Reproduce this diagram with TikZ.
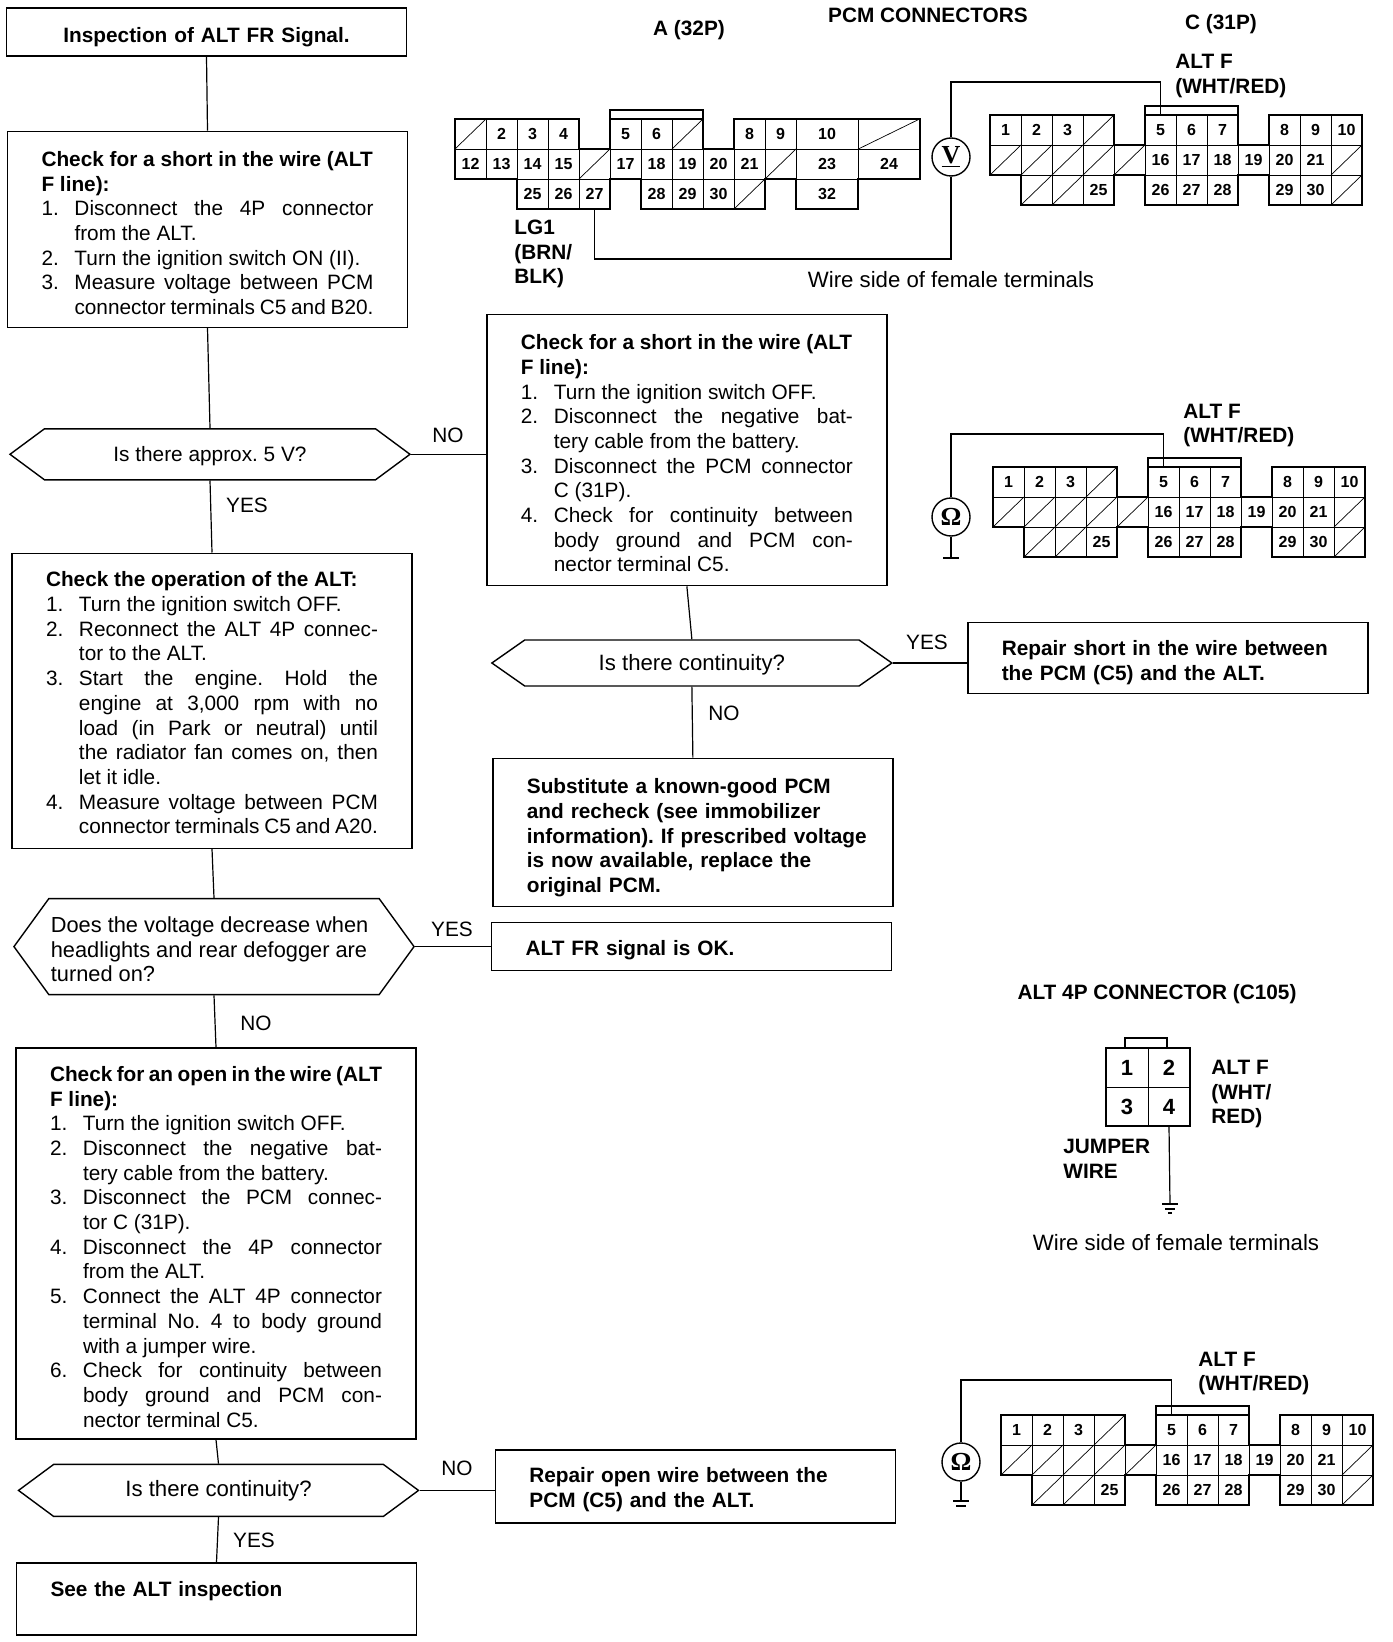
\documentclass[tikz,border=0pt]{standalone}
\usepackage{fontspec}
\usepackage{tikz}
\setmainfont{Liberation Sans}
\newfontfamily\meterfont{Liberation Serif}
\usetikzlibrary{arrows.meta,positioning,shapes.symbols,calc}
\setlength{\parindent}{0pt}
\tolerance=9999
\hbadness=10000
\newcommand{\bodyfont}{\fontsize{10.4}{12.35}\selectfont\frenchspacing}
\newcommand{\widefont}{\fontsize{11.1}{12.35}\selectfont\frenchspacing}
\newcommand{\stp}[2]{\par\noindent\hangindent=16.5pt\hangafter=1\hbox to 16.5pt{#1\hfil}#2\par}
\newcommand{\dn}[1]{\rule{0pt}{#1}}

\begin{document}
\begin{tikzpicture}[x=.5pt,y=-.5pt,font=\bodyfont,
  bx/.style={rectangle,draw,line width=.7pt,text width=166pt,inner xsep=17pt,inner ysep=2pt,align=justify},
  bb/.style={bx,font=\bodyfont\bfseries,align=left},
  hx/.style={signal,signal to=east and west,draw,line width=.7pt,minimum width=200pt,inner sep=1pt,align=left},
  lb/.style={font=\bodyfont,inner sep=0pt},
  tt/.style={font=\bodyfont\bfseries,inner sep=0pt,align=left},
  cell/.style={rectangle,draw,line width=.35pt,minimum width=15.5pt,minimum height=15pt,inner sep=0pt,font=\fontsize{8}{9}\selectfont\bfseries},
  wide/.style={cell,minimum width=31pt},
  pin/.style={rectangle,draw,line width=.35pt,minimum width=21pt,minimum height=19.5pt,inner sep=0pt,font=\fontsize{11}{12}\selectfont\bfseries},
  rim/.style={line width=1pt},
  meter/.style={circle,draw,line width=.7pt,minimum size=19pt,inner sep=0pt,font=\meterfont\bfseries\fontsize{13}{14}\selectfont},
  wire/.style={line width=.6pt}]
\useasboundingbox (0,0) rectangle (1392,1642);
% left column
\node[bb,align=center,minimum height=24pt](b1) at (206.5,32){\dn{12.8pt}Inspection of ALT FR Signal.};
\node[bx,minimum height=98pt,below=37pt of b1,xshift=.5pt](b2){\dn{11.3pt}{\bfseries Check for a short in the wire (ALT\\ F line):}\par
  \stp{1.}{Disconnect the 4P connector\linebreak from the ALT.}
  \stp{2.}{Turn the ignition switch ON (II).}
  \stp{3.}{Measure voltage between PCM\linebreak connector terminals C5 and B20.}};
\node[hx,minimum height=25.5pt,signal pointer angle=73,below=50pt of b2,xshift=1.25pt,align=center](d1){\dn{9.7pt}Is there approx. 5 V?};
\node[bx,minimum height=147.5pt,below=36pt of d1,xshift=1pt](b3){\dn{9.7pt}{\bfseries Check the operation of the ALT:}\par
  \stp{1.}{Turn the ignition switch OFF.}
  \stp{2.}{Reconnect the ALT 4P connec-\linebreak tor to the ALT.}
  \stp{3.}{Start the engine. Hold the\linebreak engine at 3,000 rpm with no\linebreak load (in Park or neutral) until\linebreak the radiator fan comes on, then\linebreak let it idle.}
  \stp{4.}{Measure voltage between PCM\linebreak connector terminals C5 and A20.}};
\node[hx,minimum height=48pt,signal pointer angle=108,below=24.5pt of b3,xshift=1pt,font=\fontsize{10.9}{12.35}\selectfont](d2){\dn{10.5pt}Does the voltage decrease when\\headlights and rear defogger are\hspace{5pt}\mbox{}\\turned on?};
\node[bx,minimum height=195.5pt,below=26pt of d2,xshift=1pt](b4){\dn{10.8pt}{\bfseries Check for an open in the wire (ALT\\ F line):}\par
  \stp{1.}{Turn the ignition switch OFF.}
  \stp{2.}{Disconnect the negative bat-\linebreak tery cable from the battery.}
  \stp{3.}{Disconnect the PCM connec-\linebreak tor C (31P).}
  \stp{4.}{Disconnect the 4P connector\linebreak from the ALT.}
  \stp{5.}{Connect the ALT 4P connector\linebreak terminal No. 4 to body ground\linebreak with a jumper wire.}
  \stp{6.}{Check for continuity between\linebreak body ground and PCM con-\linebreak nector terminal C5.}};
\node[hx,minimum height=26pt,signal pointer angle=73,below=12pt of b4,xshift=1.25pt,align=center,font=\widefont](d3){Is there continuity?};
\node[bb,minimum height=36pt,below=22.5pt of d3,xshift=-1pt](b5){\dn{9.7pt}See the ALT inspection\\~};
% middle column
\node[bx,minimum height=135.5pt,right=37.5pt of d1,yshift=2.1pt](b6){\dn{10.8pt}{\bfseries Check for a short in the wire (ALT\\ F line):}\par
  \stp{1.}{Turn the ignition switch OFF.}
  \stp{2.}{Disconnect the negative bat-\linebreak tery cable from the battery.}
  \stp{3.}{Disconnect the PCM connector\linebreak C (31P).}
  \stp{4.}{Check for continuity between\linebreak body ground and PCM con-\linebreak nector terminal C5.}};
\node[hx,minimum height=23pt,signal pointer angle=70,below=26.5pt of b6,xshift=2.5pt,align=center,font=\widefont](d4){\dn{9.7pt}Is there continuity?};
\node[bb,minimum height=35.5pt,right=37pt of d4,yshift=2.4pt](b7){\dn{12.3pt}Repair short in the wire between\\the PCM (C5) and the ALT.};
\node[bb,minimum height=74pt,below=35.5pt of d4,xshift=.5pt](b8){\dn{12.8pt}Substitute a known-good PCM\\and recheck (see immobilizer\\\mbox{information). If prescribed voltage}\\is now available, replace the\\original PCM.};
\node[bb,minimum height=24pt,right=38pt of d2](b9){\dn{11.3pt}ALT FR signal is OK.};
\node[bb,minimum height=36.5pt,right=37.5pt of d3,yshift=2pt](b10){\dn{10.8pt}Repair open wire between the\\PCM (C5) and the ALT.};
% flow lines
\draw[wire](b1.south)--(b2.north);
\draw[wire](b2.south)--(d1.north);
\draw[wire](d1.south)--(b3.north);
\draw[wire](b3.south)--(d2.north);
\draw[wire](d2.south)--(b4.north);
\draw[wire](b4.south)--(d3.north);
\draw[wire](d3.south)--(b5.north);
\draw[wire](b6.south)--(d4.north);
\draw[wire](d4.south)--(b8.north);
\draw[wire](d1.east)--(d1.east -| b6.west);
\draw[wire](d2.east)--(d2.east -| b9.west);
\draw[wire](d3.east)--(d3.east -| b10.west);
\draw[wire](d4.east)--(d4.east -| b7.west);
% yes and no
\node[lb](l1) at (448,435){NO};
\node[lb](l2) at (247,505){YES};
\node[lb](l3) at (452,929){YES};
\node[lb](l4) at (256,1023){NO};
\node[lb](l5) at (457,1468){NO};
\node[lb](l6) at (254,1540){YES};
\node[lb](l7) at (927,642){YES};
\node[lb](l8) at (724,713){NO};
% connector A
\begin{scope}[shift={(455,119)},x=15.5pt,y=-15pt]
\foreach \c/\r/\t in {1/0/2,2/0/3,3/0/4,5/0/5,6/0/6,9/0/8,10/0/9,0/1/12,1/1/13,2/1/14,3/1/15,5/1/17,6/1/18,7/1/19,8/1/20,9/1/21,2/2/25,3/2/26,4/2/27,6/2/28,7/2/29,8/2/30}
  \node[cell](a\t) at (\c+.5,\r+.5){\t};
\foreach \c/\r/\t in {12/0/10,12/1/23,14/1/24,12/2/32}
  \node[wide](a\t) at (\c,\r+.5){\t};
\foreach \c/\r in {0/0,7/0,4/1,10/1,9/2}{
  \node[cell](as\c\r) at (\c+.5,\r+.5){};
  \draw[cell](as\c\r.south west)--(as\c\r.north east);}
\node[wide](asw) at (14,.5){};
\draw[cell](asw.south west)--(asw.north east);
\draw[rim](0,0)--(4,0)--(4,1)--(5,1)--(5,0)--(8,0)--(8,1)--(9,1)--(9,0)--(15,0)--(15,2)--(13,2)--(13,3)--(11,3)--(11,2)--(10,2)--(10,3)--(6,3)--(6,2)--(5,2)--(5,3)--(2,3)--(2,2)--(0,2)--cycle;
\draw[rim](5,0)--(5,-.3)--(8,-.3)--(8,0);
\end{scope}
% connector C, three times
\foreach \nm/\ox/\oy in {p/990/115,q/993/467,r/1001/1415}{
\begin{scope}[shift={(\ox,\oy)},x=15.5pt,y=-15pt]
\foreach \c/\r/\t in {0/0/1,1/0/2,2/0/3,5/0/5,6/0/6,7/0/7,9/0/8,10/0/9,11/0/10,5/1/16,6/1/17,7/1/18,8/1/19,9/1/20,10/1/21,3/2/25,5/2/26,6/2/27,7/2/28,9/2/29,10/2/30}
  \node[cell](\nm\t) at (\c+.5,\r+.5){\t};
\foreach \c/\r in {3/0,0/1,1/1,2/1,3/1,4/1,11/1,1/2,2/2,11/2}{
  \node[cell](\nm s\c\r) at (\c+.5,\r+.5){};
  \draw[cell](\nm s\c\r.south west)--(\nm s\c\r.north east);}
\draw[rim](0,0)--(4,0)--(4,1)--(5,1)--(5,0)--(8,0)--(8,1)--(9,1)--(9,0)--(12,0)--(12,3)--(9,3)--(9,2)--(8,2)--(8,3)--(5,3)--(5,2)--(4,2)--(4,3)--(1,3)--(1,2)--(0,2)--cycle;
\draw[rim](5,0)--(5,-.3)--(8,-.3)--(8,0);
\end{scope}}
% meters and wires
\node[meter](vm) at (951,157){\underline{V}};
\coordinate(w1) at (1000,82);
\coordinate(w2) at (700,259);
\draw[wire](vm.north)|-(w1)-|(p5.north);
\draw[wire](vm.south)|-(w2)-|(a27.south);
\node[meter](om1) at (951,517){Ω};
\coordinate(w3) at (1000,434);
\coordinate(g1) at (951,558);
\draw[wire](om1.north)|-(w3)-|(q5.north);
\draw[wire](om1.south)--(g1);
\draw[wire]([xshift=-4pt]g1)--([xshift=4pt]g1);
\node[meter](om2) at (961,1462){Ω};
\coordinate(w4) at (1010,1380);
\coordinate(g2) at (961,1501);
\draw[wire](om2.north)|-(w4)-|(r5.north);
\draw[wire](om2.south)--(g2);
\draw[wire]([xshift=-4pt]g2)--([xshift=4pt]g2);
\draw[wire]([xshift=-2.5pt,yshift=-2.5pt]g2)--([xshift=2.5pt,yshift=-2.5pt]g2);
% ALT 4P connector
\node[pin](c1) at (1127,1067.5){1};
\node[pin](c2) at (1169,1067.5){2};
\node[pin](c3) at (1127,1106.5){3};
\node[pin](c4) at (1169,1106.5){4};
\draw[rim](c1.north west)--(c2.north east)--(c4.south east)--(c3.south west)--cycle;
\draw[rim](1125,1048)--(1125,1038)--(1167,1038)--(1167,1048);
\coordinate(g3) at (1170,1204);
\draw[wire](c4.south)--(g3);
\draw[wire]([xshift=-4pt]g3)--([xshift=4pt]g3);
\draw[wire]([xshift=-2.5pt,yshift=-2.5pt]g3)--([xshift=2.5pt,yshift=-2.5pt]g3);
\draw[wire]([xshift=-1pt,yshift=-4.5pt]g3)--([xshift=1pt,yshift=-4.5pt]g3);
% titles and labels
\node[tt](t1) at (928,15){PCM CONNECTORS};
\node[tt](t2) at (689,30){A (32P)};
\node[tt](t3) at (1221,24){C (31P)};
\node[tt,anchor=west](t4) at (1175,76){ALT F\\(WHT/RED)};
\node[tt,anchor=west](t5) at (514,254){LG1\\(BRN/\\BLK)};
\node[lb,font=\widefont](t6) at (951,280){Wire side of female terminals};
\node[tt,anchor=west](t7) at (1183,425.5){ALT F\\(WHT/RED)};
\node[tt](t8) at (1157,994){ALT 4P CONNECTOR (C105)};
\node[tt,anchor=west](t9) at (1211,1094){ALT F\\(WHT/\\RED)};
\node[tt,anchor=west](t10) at (1063,1159){JUMPER\\WIRE};
\node[lb,font=\widefont](t11) at (1176,1243){Wire side of female terminals};
\node[tt,anchor=west](t12) at (1198,1373.5){ALT F\\(WHT/RED)};
\end{tikzpicture}
\end{document}
